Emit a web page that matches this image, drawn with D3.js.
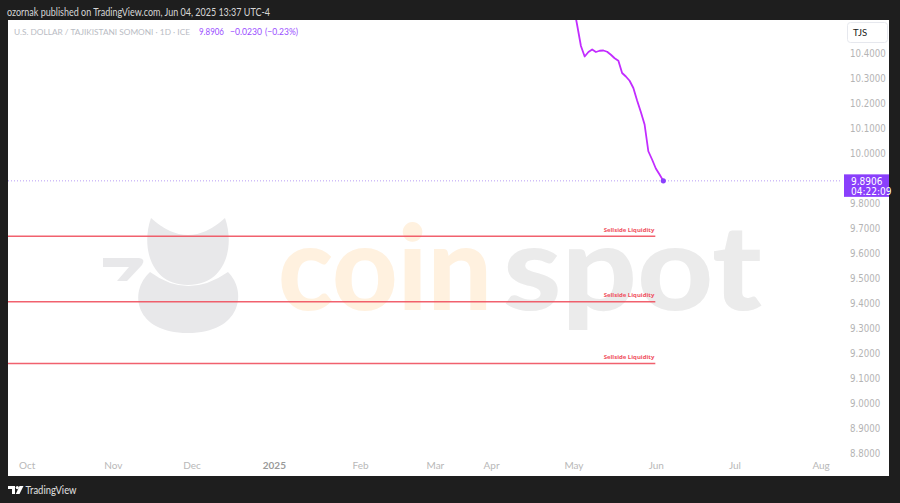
<!DOCTYPE html>
<html><head><meta charset="utf-8">
<script src="https://cdn.jsdelivr.net/npm/d3@7"></script>
<style>
html,body{margin:0;padding:0;background:#1e1e1e;overflow:hidden;}
svg{display:block;}
</style></head><body>
<svg id="c" width="900" height="503"></svg>
<script>
// ---------------- data ----------------
const monthLabels   = ["Oct","Nov","Dec","2025","Feb","Mar","Apr","May","Jun","Jul","Aug"];
const monthStarts   = ["2024-10-01","2024-11-01","2024-12-01","2025-01-01","2025-02-01","2025-03-01","2025-04-01","2025-05-01","2025-06-01","2025-07-01","2025-08-01"];
const monthSessions = [23,21,22,23,20,15,22,22,21,23]; // daily sessions between consecutive labels
const priceTicks    = [8.8,8.9,9.0,9.1,9.2,9.3,9.4,9.5,9.6,9.7,9.8,9.9,10.0,10.1,10.2,10.3,10.4];
const closeDates    = ["2025-04-24","2025-04-25","2025-04-28","2025-04-29","2025-04-30",
  "2025-05-01","2025-05-02","2025-05-05","2025-05-06","2025-05-07","2025-05-08","2025-05-09",
  "2025-05-12","2025-05-13","2025-05-14","2025-05-15","2025-05-16","2025-05-19","2025-05-20",
  "2025-05-21","2025-05-22","2025-05-23","2025-05-26","2025-05-27","2025-05-28","2025-05-29",
  "2025-05-30","2025-06-02","2025-06-03","2025-06-04"];
const closeValues   = [10.70,10.68,10.66,10.65,10.63,
  10.593,10.513,10.43,10.388,10.406,10.416,10.406,
  10.411,10.412,10.407,10.395,10.381,10.371,10.322,
  10.308,10.291,10.262,10.212,10.166,10.116,10.009,
  9.976,9.940,9.916,9.8906];
const lastPrice = 9.8906;
const liquidityLevels = [9.669, 9.407, 9.160];
const liquidityLabel  = "Sellside Liquidity";

// ---------------- helpers ----------------
const cumSessions = [0];
monthSessions.forEach((n,i)=>cumSessions.push(cumSessions[i]+n));
function sessionIndex(ds){
  const d = new Date(ds+"T00:00:00Z");
  let m = -1;
  monthStarts.forEach((s,i)=>{ if (new Date(s+"T00:00:00Z") <= d) m = i; });
  let n = 0;
  for (let t = new Date(monthStarts[m]+"T00:00:00Z"); t < d; t = new Date(t.getTime()+864e5)){
    const wd = t.getUTCDay(); if (wd!==0 && wd!==6) n++;
  }
  return cumSessions[m] + n;
}
const series = closeDates.map((d,i)=>({i:sessionIndex(d), v:closeValues[i]}));

// ---------------- layout ----------------
const svg = d3.select("#c");
const panel = {x:8, y:20, w:881, h:456};
const plotR = 841;
const x = d3.scaleLinear().domain([0, cumSessions[cumSessions.length-1]]).range([26.7, 820.6]);
const y = d3.scaleLinear().domain([8.8, 10.4]).range([453.5, 53.5]);

svg.append("rect").attr("width",900).attr("height",503).attr("fill","#1e1e1e");
svg.append("rect").attr("x",panel.x).attr("y",panel.y).attr("width",panel.w).attr("height",panel.h).attr("fill","#ffffff");

// header
svg.append("text").attr("x",7).attr("y",15.5)
  .attr("font-family","Lato, 'Liberation Sans', sans-serif").attr("font-size",10.5)
  .attr("fill","#d6d6d6").attr("textLength",263).attr("lengthAdjust","spacingAndGlyphs")
  .text("ozornak published on TradingView.com, Jun 04, 2025 13:37 UTC-4");

// watermark
const wm = svg.append("g");
wm.append("path").attr("fill","#e8e8ea")
  .attr("d","M151,218 C141,246 150,285 188,285 C226,285 235,246 225,218 Q188,252 151,218 Z");
wm.append("path").attr("fill","#e8e8ea")
  .attr("d","M150,272 C128,292 135,333 188,333 C241,333 248,292 228,272 Q188,300 150,272 Z");
wm.append("path").attr("fill","#e8e8ea")
  .attr("d","M103,258 L139,258 Q146,259 142,265 L127,281 L117,281 L129,267 L103,267 Z");
wm.append("text").attr("x",278).attr("y",310)
  .attr("font-family","Lato, 'Open Sans', sans-serif").attr("font-weight",900).attr("font-size",118)
  .attr("fill","#fff1df").attr("textLength",214).attr("lengthAdjust","spacingAndGlyphs").text("coin");
wm.append("text").attr("x",503).attr("y",310)
  .attr("font-family","Lato, 'Open Sans', sans-serif").attr("font-weight",900).attr("font-size",118)
  .attr("fill","#ebebeb").attr("textLength",259).attr("lengthAdjust","spacingAndGlyphs").text("spot");

// clip
svg.append("clipPath").attr("id","plotclip").append("rect")
  .attr("x",panel.x).attr("y",panel.y).attr("width",plotR-panel.x).attr("height",panel.h);
const plot = svg.append("g").attr("clip-path","url(#plotclip)");

// liquidity lines
const liqEnd = x(sessionIndex("2025-06-04")) - 8;
liquidityLevels.forEach(v=>{
  plot.append("line").attr("x1",panel.x).attr("x2",liqEnd).attr("y1",y(v)).attr("y2",y(v))
    .attr("stroke","#f0505e").attr("stroke-width",1.6).attr("stroke-opacity",0.9);
  plot.append("text").attr("x",liqEnd-1).attr("y",y(v)-4.6).attr("text-anchor","end")
    .attr("font-family","'Open Sans', Lato, sans-serif").attr("font-weight",700).attr("font-size",6)
    .attr("fill","#f0505e").text(liquidityLabel);
});

// last price dotted line
plot.append("line").attr("x1",panel.x).attr("x2",plotR).attr("y1",y(lastPrice)).attr("y2",y(lastPrice))
  .attr("stroke","#b89cf5").attr("stroke-width",1).attr("stroke-dasharray","1,2");

// price line
plot.append("path").datum(series)
  .attr("fill","none").attr("stroke","#c22cff").attr("stroke-width",1.8).attr("stroke-linejoin","round")
  .attr("d", d3.line().x(d=>x(d.i)).y(d=>y(d.v)));
const last = series[series.length-1];
plot.append("circle").attr("cx",x(last.i)).attr("cy",y(last.v)).attr("r",2.6).attr("fill","#8a3ffc");

// legend
const lg = svg.append("g").attr("font-family","Lato, 'Liberation Sans', sans-serif");
lg.append("text").attr("x",14).attr("y",35).attr("fill","#b9bcc4").attr("font-size",8.4)
  .attr("textLength",176).attr("lengthAdjust","spacingAndGlyphs")
  .text("U.S. DOLLAR / TAJIKISTANI SOMONI · 1D · ICE");
lg.append("text").attr("x",199).attr("y",35).attr("fill","#9a4dff").attr("font-size",9.5)
  .attr("textLength",25).attr("lengthAdjust","spacingAndGlyphs").text(d3.format(".4f")(lastPrice));
lg.append("text").attr("x",230).attr("y",35).attr("fill","#9a4dff").attr("font-size",9.5)
  .attr("textLength",32).attr("lengthAdjust","spacingAndGlyphs").text("−0.0230");
lg.append("text").attr("x",265).attr("y",35).attr("fill","#9a4dff").attr("font-size",9.5)
  .attr("textLength",33).attr("lengthAdjust","spacingAndGlyphs").text("(−0.23%)");

// y axis (labels hidden behind the last-price tag are skipped, as TradingView does)
const ly = y(lastPrice);
const visibleTicks = priceTicks.filter(t => Math.abs(y(t) - (ly + 4.75)) > 16);
const ya = svg.append("g").attr("transform","translate(846,0)")
  .call(d3.axisRight(y).tickValues(visibleTicks).tickFormat(d3.format(".4f")).tickSize(0).tickPadding(4));
ya.select(".domain").remove();
ya.selectAll("text").attr("font-family","'Liberation Sans Narrow','DejaVu Sans Condensed','Liberation Sans',sans-serif")
  .attr("font-size",9.6).attr("fill","#b4b4b4").attr("text-anchor","start");

// currency box
svg.append("rect").attr("x",847.5).attr("y",22.5).attr("width",40).attr("height",20).attr("rx",3)
  .attr("fill","#ffffff").attr("stroke","#e6e8ee");
svg.append("text").attr("x",853).attr("y",36).attr("font-family","Lato, 'Liberation Sans', sans-serif")
  .attr("font-size",9.5).attr("fill","#202020").text("TJS");

// last price label
svg.append("rect").attr("x",844).attr("y",ly-6.5).attr("width",45).attr("height",22.5).attr("fill","#8a3ffc");
svg.append("text").attr("x",851).attr("y",ly+4).attr("font-family","'Liberation Sans Narrow','DejaVu Sans Condensed',sans-serif")
  .attr("font-size",10).attr("fill","#ffffff").text(d3.format(".4f")(lastPrice));
svg.append("text").attr("x",851).attr("y",ly+14.5).attr("font-family","'Liberation Sans Narrow','DejaVu Sans Condensed',sans-serif")
  .attr("font-size",10).attr("fill","#ffffff").text("04:22:09");

// x axis
const xa = svg.append("g").attr("transform","translate(0,462)")
  .call(d3.axisBottom(x).tickValues(cumSessions).tickFormat((d,i)=>monthLabels[i]).tickSize(0).tickPadding(0));
xa.select(".domain").remove();
xa.selectAll("text").attr("font-family","Lato, 'Liberation Sans', sans-serif").attr("font-size",10)
  .attr("fill",(d,i)=>monthLabels[i]==="2025"?"#9a9a9a":"#b8b8b8")
  .attr("font-weight",(d,i)=>monthLabels[i]==="2025"?700:400);

// footer logo
const ft = svg.append("g").attr("fill","#ffffff");
ft.append("path").attr("d","M8,486 L15,486 L15,494 L12,494 L12,489 L8,489 Z");
ft.append("circle").attr("cx",17.3).attr("cy",487.6).attr("r",1.6);
ft.append("path").attr("d","M19.5,486 L23.5,486 L19.5,494 L15.8,494 Z");
ft.append("text").attr("x",25.5).attr("y",493.5).attr("font-family","Lato, 'Liberation Sans', sans-serif")
  .attr("font-size",10.5).attr("fill","#e0e0e0").attr("textLength",51).attr("lengthAdjust","spacingAndGlyphs")
  .text("TradingView");
</script>
</body></html>
